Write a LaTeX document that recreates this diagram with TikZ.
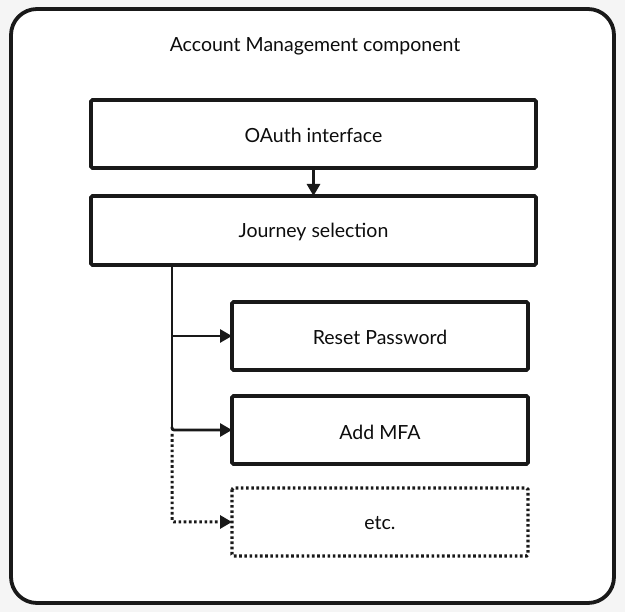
\documentclass[tikz,border=0pt]{standalone}
\usepackage{fontspec}
\setmainfont{Lato}
\usetikzlibrary{arrows.meta}
\begin{document}
\begin{tikzpicture}[x=1pt,y=-1pt,
  box/.style={draw=black!90,line width=3.6pt,rounded corners=1.5pt,minimum height=0},
  conn/.style={line width=2.8pt,draw=black!90,-{Triangle[length=12pt,width=13pt]}},
  dotline/.style={line width=3pt,dash pattern=on 2.6pt off 2.6pt},
  lbl/.style={font=\fontsize{19.5}{23}\selectfont,text=black!95}]
\useasboundingbox[fill=black!4] (0,0) rectangle (625,612);
\draw[fill=white,draw=black!90,line width=3.8pt,rounded corners=26pt] (11,9) rectangle (614,603);
\node[lbl] (title) at (315,46) {Account Management component};
\draw[box,fill=white] (91,100) rectangle (536,168);
\node[lbl] (oauth) at (313.5,135) {OAuth interface};
\draw[box,fill=white] (91,196) rectangle (536,265);
\node[lbl] (journey) at (313.5,232) {Journey selection};
\draw[box] (232,302) rectangle (528,370);
\node[lbl] (reset) at (380,337) {Reset Password};
\draw[box] (232,396) rectangle (528,464);
\node[lbl] (mfa) at (380,432) {Add MFA};
\draw[box,dotline,line width=3.4pt,rounded corners=1.5pt] (232,488) rectangle (528,556);
\node[lbl] (etc) at (380,523) {etc.};
\coordinate (oa) at (313.5,168);
\coordinate (jb) at (313.5,196);
\draw[conn] (oa) -- (jb);
\coordinate (js) at (172,265);
\coordinate (b1) at (172,336);
\coordinate (b2) at (172,430);
\coordinate (b3) at (172,522);
\coordinate (t1) at (232,336);
\coordinate (t2) at (232,430);
\coordinate (t3) at (232,522);
\draw[line width=2.8pt,draw=black!90] (js) -- (b2);
\draw[conn] (b1) -- (t1);
\draw[conn,rounded corners=2pt] (b1|-b2) ++(0,-3) -- (b2) -- (t2);
\draw[conn,dotline,-{Triangle[length=12pt,width=13pt]},rounded corners=2pt] (172,434) -- (b3) -- (t3);
\end{tikzpicture}
\end{document}
